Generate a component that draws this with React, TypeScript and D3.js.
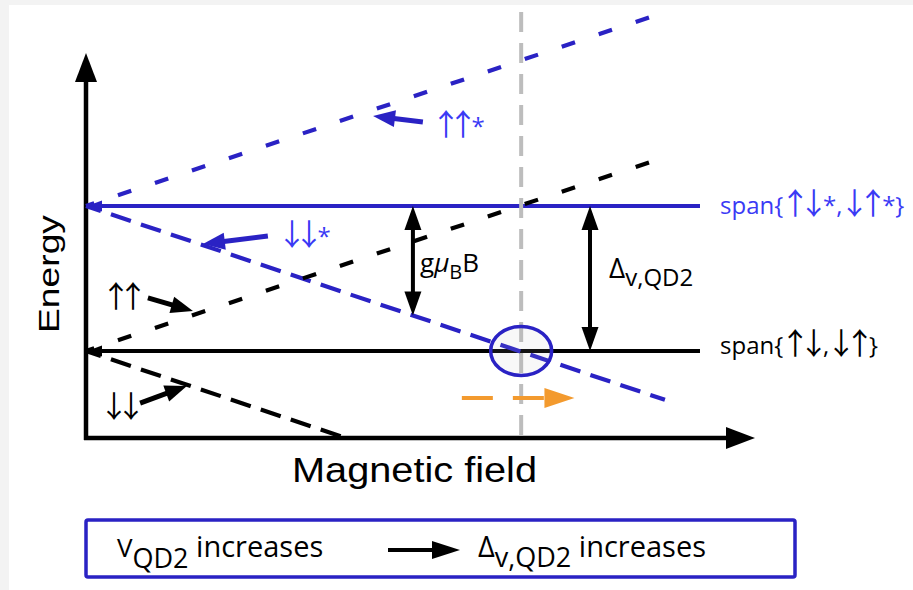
import React from "react";
import * as d3 from "d3";

const W = 913;
const H = 590;

// Zeeman-split two-electron levels: E = offset + slope * B
// (energy in units of the valley splitting, field in units of the crossing field)
const levelNames = ["↑↑*", "↓↓*", "↑↑", "↓↓"];
const levelOffsets = [1, 1, 0, 0];
const levelSlopes = [1, -1, 1, -1];
const levelFieldEnds = [1.31, 1.337, 1.31, 0.6];
const levelIsExcited = [true, true, false, false];

// Field-independent states
const plateauNames = ["span{↑↓*,↓↑*}", "span{↑↓,↓↑}"];
const plateauEnergies = [1, 0];
const plateauFieldEnd = 1.418;

// Axis extents
const fieldMax = 1.545;
const energyMax = 2.055;
const energyMin = -0.6;

// Markers
const crossingField = 1.005;
const zeemanArrowField = 0.755;
const valleyArrowField = 1.164;
const shiftFieldStart = 0.868;
const shiftFieldEnd = 1.128;
const shiftEnergy = -0.324;

// Pointer arrows from level labels to their lines: [B, E]
const pointerTails = [
  [0.778, 1.579],
  [0.42, 0.793],
  [0.143, 0.366],
  [0.125, -0.359],
];
const pointerTips = [
  [0.663, 1.621],
  [0.27, 0.738],
  [0.247, 0.276],
  [0.233, -0.241],
];

const LINE_BLUE = "#2a22c4";
const TEXT_BLUE = "#3a3af5";
const ORANGE = "#f39a2e";
const GREY = "#bdbdbd";
const CAL = "'Open Sans', 'Noto Sans', sans-serif";
const ARROWS = "'Noto Sans CJK JP', 'DejaVu Sans', sans-serif";
const ARIAL = "'Liberation Sans', Arial, sans-serif";

const x = d3.scaleLinear().domain([0, 1]).range([86, 519]);
const y = d3.scaleLinear().domain([0, 1]).range([351, 206]);

function head(tx: number, ty: number, fx: number, fy: number, len: number, half: number) {
  const a = Math.atan2(ty - fy, tx - fx);
  const bx = tx - len * Math.cos(a);
  const by = ty - len * Math.sin(a);
  const nx = -Math.sin(a) * half;
  const ny = Math.cos(a) * half;
  return `M${tx},${ty}L${bx + nx},${by + ny}L${bx - nx},${by - ny}Z`;
}

const isSpin = (ch: string) => ch === "↑" || ch === "↓";

// Spin arrows use slim full-width glyphs; letter-spacing narrows their advance
function spinText(s: string, arrowSize: number, advance: number) {
  const trim = (arrowSize - advance) / 2;
  const chars = Array.from(s);
  return chars.map((ch, i) => {
    const nextSpin = i + 1 < chars.length && isSpin(chars[i + 1]);
    if (isSpin(ch)) {
      const ls = nextSpin ? -2 * trim : -trim;
      return (
        <tspan key={i} fontFamily={ARROWS} fontSize={arrowSize} letterSpacing={ls}>
          {ch}
        </tspan>
      );
    }
    return (
      <tspan key={i} letterSpacing={nextSpin ? -Math.min(trim, 3) : undefined}>
        {ch}
      </tspan>
    );
  });
}

function Arrow(props: {
  x1: number; y1: number; x2: number; y2: number;
  color: string; width: number; len: number; half: number; dash?: string;
}) {
  const { x1, y1, x2, y2, color, width, len, half, dash } = props;
  const a = Math.atan2(y2 - y1, x2 - x1);
  const ex = x2 - (len - 1) * Math.cos(a);
  const ey = y2 - (len - 1) * Math.sin(a);
  return (
    <g>
      <line x1={x1} y1={y1} x2={ex} y2={ey} stroke={color} strokeWidth={width} strokeDasharray={dash} />
      <path d={head(x2, y2, x1, y1, len, half)} fill={color} />
    </g>
  );
}

function DoubleArrow(props: { xp: number; y1: number; y2: number }) {
  const { xp, y1, y2 } = props;
  const len = 24;
  const half = 8.5;
  return (
    <g>
      <line x1={xp} y1={y1 + len - 2} x2={xp} y2={y2 - len + 2} stroke="#000" strokeWidth={4} />
      <path d={head(xp, y1, xp, y2, len, half)} fill="#000" />
      <path d={head(xp, y2, xp, y1, len, half)} fill="#000" />
    </g>
  );
}

export default function App() {
  const x0 = x(0);
  const yAxisBottom = y(energyMin);
  const yAxisTop = y(energyMax);
  const xAxisEnd = x(fieldMax);

  return (
    <svg
      width={W}
      height={H}
      viewBox={`0 0 ${W} ${H}`}
      style={{ position: "absolute", left: 0, top: 0, display: "block" }}
    >
      <rect x={0} y={0} width={W} height={H} fill="#f3f3f3" />
      <rect x={9} y={5} width={W - 9} height={H - 5} fill="#ffffff" />

      {/* field-independent levels */}
      {plateauEnergies.map((e, i) => {
        const c = i === 0 ? LINE_BLUE : "#000";
        const yy = y(e);
        return (
          <g key={plateauNames[i]}>
            <line x1={x0 + 12} y1={yy} x2={x(plateauFieldEnd)} y2={yy} stroke={c} strokeWidth={4} />
            <path d={head(x0 + 1, yy, x0 + 30, yy, 15, 5.5)} fill={c} />
          </g>
        );
      })}

      {/* crossing field marker */}
      <line
        x1={x(crossingField)}
        y1={12}
        x2={x(crossingField)}
        y2={yAxisBottom}
        stroke={GREY}
        strokeWidth={4}
        strokeDasharray="20 11"
      />

      {/* axes */}
      <line x1={x0} y1={yAxisBottom + 2} x2={x0} y2={yAxisTop + 26} stroke="#000" strokeWidth={4.5} />
      <path d={head(x0, yAxisTop, x0, yAxisBottom, 29, 11)} fill="#000" />
      <line x1={x0 - 2} y1={yAxisBottom} x2={xAxisEnd - 26} y2={yAxisBottom} stroke="#000" strokeWidth={4.5} />
      <path d={head(xAxisEnd, yAxisBottom, x0, yAxisBottom, 29, 11)} fill="#000" />

      {/* Zeeman-split levels */}
      {levelNames.map((name, i) => {
        const bEnd = levelFieldEnds[i];
        const e = (b: number) => levelOffsets[i] + levelSlopes[i] * b;
        const up = levelSlopes[i] > 0;
        const color = levelIsExcited[i] ? LINE_BLUE : "#000";
        const d = d3
          .line<number>()
          .x((b) => x(b))
          .y((b) => y(e(b)))([0, bEnd]);
        return (
          <path
            key={name}
            d={d || ""}
            fill="none"
            stroke={color}
            strokeWidth={4.2}
            strokeDasharray={up ? "14 25" : "21 10.6"}
            strokeDashoffset={5.3}
          />
        );
      })}

      {/* level crossing highlight */}
      <ellipse
        cx={x(crossingField)}
        cy={y(0)}
        rx={30.5}
        ry={24.5}
        fill="rgba(190,190,190,0.1)"
        stroke={LINE_BLUE}
        strokeWidth={3.5}
      />

      {/* shift of the crossing */}
      <Arrow
        x1={x(shiftFieldStart)}
        y1={y(shiftEnergy)}
        x2={x(shiftFieldEnd)}
        y2={y(shiftEnergy)}
        color={ORANGE}
        width={4}
        len={30}
        half={10}
        dash="31 20"
      />

      {/* Zeeman splitting and valley splitting */}
      <DoubleArrow xp={x(zeemanArrowField)} y1={y(1)} y2={y(1 - zeemanArrowField)} />
      <DoubleArrow xp={x(valleyArrowField)} y1={y(1)} y2={y(0)} />

      <text x={420} y={272} fontFamily={CAL} fontSize={26} fill="#000">
        g<tspan fontStyle="italic">μ</tspan>
        <tspan fontSize={20} dy={7}>B</tspan>
        <tspan dy={-7}>B</tspan>
      </text>
      <text x={609} y={278} fontFamily={CAL} fontSize={28} fill="#000">
        Δ<tspan fontSize={24} dy={8}>v,QD2</tspan>
      </text>

      {/* level labels and pointers */}
      {levelNames.map((name, i) => {
        const color = levelIsExcited[i] ? LINE_BLUE : "#000";
        const [tb, te] = pointerTails[i];
        const [hb, he] = pointerTips[i];
        return (
          <Arrow
            key={name}
            x1={x(tb)}
            y1={y(te)}
            x2={x(hb)}
            y2={y(he)}
            color={color}
            width={5}
            len={22}
            half={8.5}
          />
        );
      })}
      <text x={431} y={135} fontFamily={CAL} fontSize={24} fill={TEXT_BLUE}>
        {spinText(levelNames[0], 30, 17)}
      </text>
      <text x={277} y={245} fontFamily={CAL} fontSize={24} fill={TEXT_BLUE}>
        {spinText(levelNames[1], 30, 17)}
      </text>
      <text x={101} y={307} fontFamily={CAL} fontSize={24} fill="#000">
        {spinText(levelNames[2], 30, 17)}
      </text>
      <text x={99} y={417} fontFamily={CAL} fontSize={24} fill="#000">
        {spinText(levelNames[3], 30, 17)}
      </text>

      <text x={720} y={214} fontFamily={CAL} fontSize={24} fill={TEXT_BLUE}>
        {spinText(plateauNames[0], 30, 18.5)}
      </text>
      <text x={720} y={354} fontFamily={CAL} fontSize={24} fill="#000">
        {spinText(plateauNames[1], 30, 18.5)}
      </text>

      {/* axis titles */}
      <text
        x={292}
        y={482}
        fontFamily={ARIAL}
        fontSize={35}
        textLength={245}
        lengthAdjust="spacingAndGlyphs"
        fill="#000"
      >
        Magnetic field
      </text>
      <text
        transform="translate(59,333) rotate(-90)"
        fontFamily={ARIAL}
        fontSize={29}
        textLength={118}
        lengthAdjust="spacingAndGlyphs"
        fill="#000"
      >
        Energy
      </text>

      {/* summary box */}
      <rect x={86} y={520} width={709} height={57} rx={2} fill="none" stroke={LINE_BLUE} strokeWidth={3.5} />
      <text x={117} y={557} fontFamily={CAL} fontSize={29} fill="#000">
        <tspan fontSize={26}>V</tspan>
        <tspan fontSize={27} dy={11}>QD2</tspan>
        <tspan dy={-11}> increases</tspan>
      </text>
      <Arrow x1={388} y1={550} x2={460} y2={550} color="#000" width={4} len={28} half={9} />
      <text x={478} y={557} fontFamily={CAL} fontSize={29} fill="#000">
        Δ<tspan fontSize={27} dy={10}>v,QD2</tspan>
        <tspan dy={-10}> increases</tspan>
      </text>
    </svg>
  );
}
